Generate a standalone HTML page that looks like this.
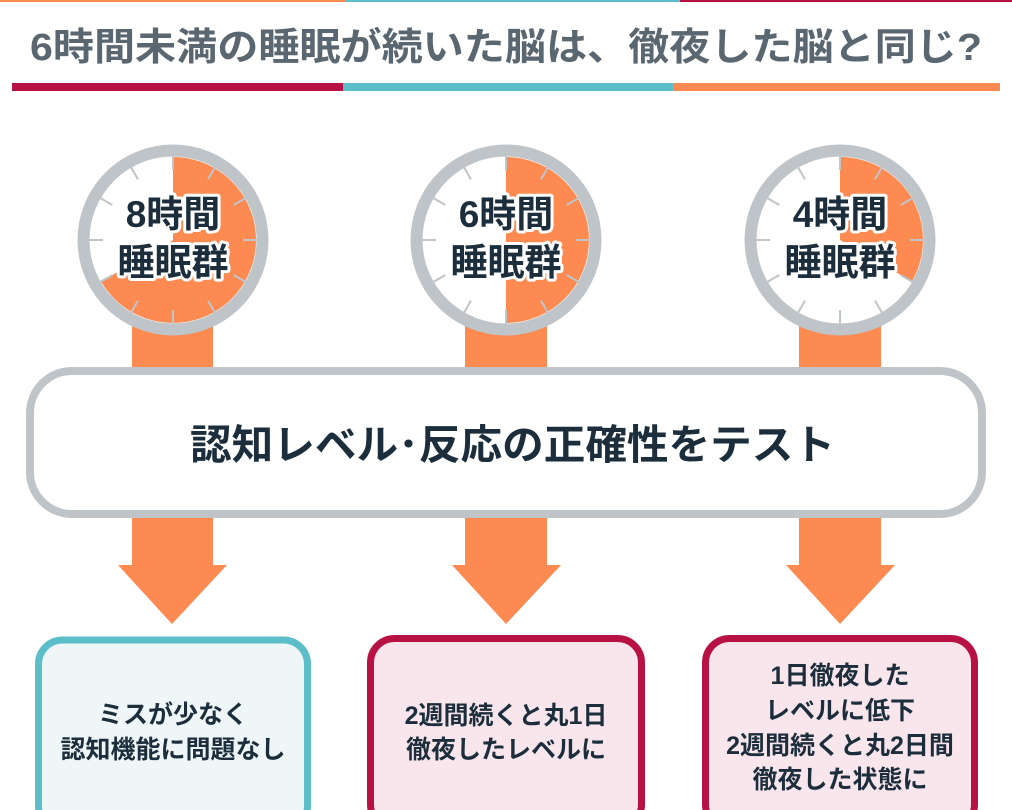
<!DOCTYPE html>
<html><head><meta charset="utf-8"><style>
body{margin:0;background:#fff}
svg{display:block}
text{font-family:"Liberation Sans","Noto Sans CJK JP",sans-serif}
</style></head><body>
<svg width="1012" height="810" viewBox="0 0 1012 810">
<rect x="0" y="0" width="346" height="2" fill="#fc8a51"/>
<rect x="346" y="0" width="334" height="2" fill="#5bbec9"/>
<rect x="680" y="0" width="332" height="2" fill="#b81245"/>
<text x="30" y="60" font-size="38" font-weight="bold" fill="#5a6670" textLength="952" lengthAdjust="spacingAndGlyphs">6時間未満の睡眠が続いた脳は、徹夜した脳と同じ?</text>
<rect x="12" y="83" width="331" height="8" fill="#b81245"/>
<rect x="343" y="83" width="330" height="8" fill="#5bbec9"/>
<rect x="673" y="83" width="327" height="8" fill="#fc8a51"/>

<g fill="#fc8a51">
<rect x="132" y="320" width="81" height="60"/>
<rect x="465" y="320" width="82" height="60"/>
<rect x="799" y="320" width="82" height="60"/>
<rect x="132" y="510" width="81" height="56"/>
<rect x="465" y="510" width="82" height="56"/>
<rect x="799" y="510" width="82" height="56"/>
<polygon points="118,565 227,565 172,624"/>
<polygon points="452,565 561,565 506,624"/>
<polygon points="786,565 895,565 840,624"/>
</g>

<defs>
<g id="ticks" stroke="#bfc4c8" stroke-width="2">
<line x1="0" y1="-70" x2="0" y2="-84"/>
<line x1="0" y1="-70" x2="0" y2="-84" transform="rotate(30)"/>
<line x1="0" y1="-70" x2="0" y2="-84" transform="rotate(60)"/>
<line x1="0" y1="-70" x2="0" y2="-84" transform="rotate(90)"/>
<line x1="0" y1="-70" x2="0" y2="-84" transform="rotate(120)"/>
<line x1="0" y1="-70" x2="0" y2="-84" transform="rotate(150)"/>
<line x1="0" y1="-70" x2="0" y2="-84" transform="rotate(180)"/>
<line x1="0" y1="-70" x2="0" y2="-84" transform="rotate(210)"/>
<line x1="0" y1="-70" x2="0" y2="-84" transform="rotate(240)"/>
<line x1="0" y1="-70" x2="0" y2="-84" transform="rotate(270)"/>
<line x1="0" y1="-70" x2="0" y2="-84" transform="rotate(300)"/>
<line x1="0" y1="-70" x2="0" y2="-84" transform="rotate(330)"/>
</g>
</defs>

<g>
<circle cx="173" cy="240" r="84" fill="#fff"/>
<path d="M173,240 L173,157 A83,83 0 1 1 101.1,281.5 Z" fill="#fc8a51"/>
<use href="#ticks" transform="translate(173,240)"/>
<circle cx="173" cy="240" r="89.5" fill="none" stroke="#bfc4c8" stroke-width="12"/>
</g>
<g>
<circle cx="506" cy="240" r="84" fill="#fff"/>
<path d="M506,240 L506,157 A83,83 0 0 1 506,323 Z" fill="#fc8a51"/>
<use href="#ticks" transform="translate(506,240)"/>
<circle cx="506" cy="240" r="89.5" fill="none" stroke="#bfc4c8" stroke-width="12"/>
</g>
<g>
<circle cx="840" cy="240" r="84" fill="#fff"/>
<path d="M840,240 L840,157 A83,83 0 0 1 911.9,281.5 Z" fill="#fc8a51"/>
<use href="#ticks" transform="translate(840,240)"/>
<circle cx="840" cy="240" r="89.5" fill="none" stroke="#bfc4c8" stroke-width="12"/>
</g>

<g font-size="37" font-weight="bold" fill="#1c2e3b" stroke="#fff" stroke-width="6" stroke-linejoin="round" paint-order="stroke" text-anchor="middle">
<text x="173" y="227">8時間</text><text x="173" y="275">睡眠群</text>
<text x="506" y="227">6時間</text><text x="506" y="275">睡眠群</text>
<text x="840" y="227">4時間</text><text x="840" y="275">睡眠群</text>
</g>

<rect x="30" y="371" width="952" height="143" rx="42" fill="#fff" stroke="#bfc4c8" stroke-width="8"/>
<text x="190" y="459" font-size="41" font-weight="bold" fill="#1c2e3b" textLength="645" lengthAdjust="spacingAndGlyphs">認知レベル･反応の正確性をテスト</text>

<rect x="38.5" y="640" width="269" height="190" rx="24" fill="#eef6f8" stroke="#5bbec9" stroke-width="7"/>
<rect x="370.5" y="638.5" width="271" height="190" rx="24" fill="#f8e6ec" stroke="#b81245" stroke-width="7"/>
<rect x="705.5" y="638.5" width="269" height="190" rx="24" fill="#f8e6ec" stroke="#b81245" stroke-width="7"/>

<g font-size="25" font-weight="bold" fill="#1c2e3b" text-anchor="middle">
<text x="173" y="723">ミスが少なく</text>
<text x="173" y="758">認知機能に問題なし</text>
<text x="506" y="724">2週間続くと丸1日</text>
<text x="506" y="758">徹夜したレベルに</text>
<text x="840" y="684">1日徹夜した</text>
<text x="840" y="719">レベルに低下</text>
<text x="840" y="754">2週間続くと丸2日間</text>
<text x="840" y="788">徹夜した状態に</text>
</g>
</svg>
</body></html>
